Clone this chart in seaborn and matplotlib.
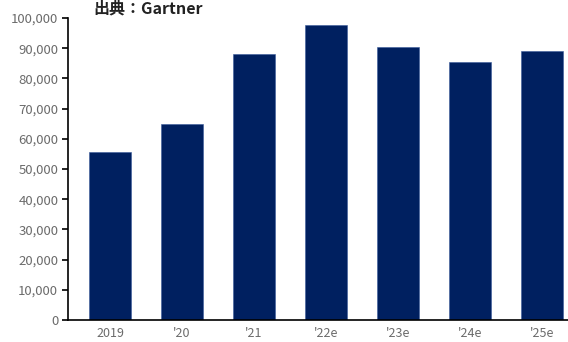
import matplotlib
matplotlib.use("Agg")
import matplotlib.pyplot as plt
import matplotlib.ticker as mticker
import seaborn as sns
import pandas as pd

# Yearly values (forecast years marked with "e")
years = ["2019", "'20", "'21", "'22e", "'23e", "'24e", "'25e"]
values = [55600, 64900, 88100, 97700, 90400, 85400, 89100]
source_label = "出典：Gartner"

sns.set_theme(style="white")
plt.rcParams["font.family"] = ["Noto Sans CJK JP", "DejaVu Sans"]

df = pd.DataFrame({"year": years, "value": values})

W, H = 568, 342
fig = plt.figure(figsize=(W / 100, H / 100), dpi=100)
ax = fig.add_axes([68 / W, 1 - 320 / H, 1 - 68 / W, (320 - 18) / H])

sns.barplot(data=df, x="year", y="value", color="#002060", saturation=1,
            width=0.58, ax=ax, edgecolor="#3a5a9a", linewidth=0.4)

ax.set_xlim(-0.583, 6.36)
ax.set_ylim(0, 100000)
ax.yaxis.set_major_locator(mticker.MultipleLocator(10000))
ax.yaxis.set_major_formatter(mticker.FuncFormatter(lambda v, p: f"{int(v):,}"))
ax.set_xlabel("")
ax.set_ylabel("")

for s in ["top", "right"]:
    ax.spines[s].set_visible(False)
for s in ["left", "bottom"]:
    ax.spines[s].set_color("black")
    ax.spines[s].set_linewidth(1.2)

ax.tick_params(axis="y", direction="out", length=4, width=1.2, color="black",
               labelsize=9.5, labelcolor="#6b6b6b", pad=3, left=True)
ax.tick_params(axis="x", length=0, labelsize=9, labelcolor="#6b6b6b", pad=5)

fig.text(93 / W, 1 - 13 / H, source_label, fontsize=11.5, fontweight="bold",
         color="#222222", ha="left", va="baseline")

fig.savefig("out.png", dpi=100)
